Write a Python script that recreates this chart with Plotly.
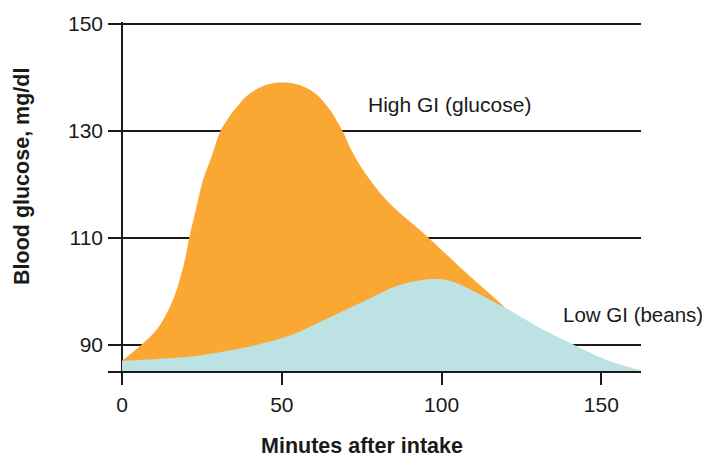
import plotly.graph_objects as go

# Minutes after intake / blood glucose (mg/dl)
high_x = [0, 6.1, 10.8, 14.5, 17.1, 19.7, 21.0, 23.3, 25.3, 28.0, 30.8, 32.8, 34.8, 37.3, 40.0, 42.6,
          45.2, 47.8, 50.4, 53.0, 55.6, 58.2, 60.8, 63.2, 65.5, 67.3, 69.0, 71.8, 75.4, 82.7, 96.0,
          106.7, 117.1, 122.0, 130.6, 141.0, 151.5, 162.4]
high_y = [87.0, 90.0, 92.8, 96.5, 100.3, 106.0, 110.0, 115.8, 120.8, 125.2, 130.0, 132.0, 133.7, 135.5, 137.0, 138.0,
          138.65, 139.0, 139.1, 139.0, 138.6, 137.9, 136.9, 135.4, 133.6, 131.8, 130.0, 126.4, 122.7, 117.1, 110.0,
          104.0, 98.5, 95.9, 92.7, 89.6, 86.7, 85.0]

low_x = [0, 12.0, 24.4, 50.4, 63.4, 76.5, 86.9, 97.3, 102.5, 119.7, 130.6, 141.0, 151.5, 162.4]
low_y = [87.0, 87.4, 88.0, 91.3, 94.7, 98.4, 101.2, 102.3, 102.0, 97.0, 93.2, 90.1, 87.2, 85.2]

x_ticks = [0, 50, 100, 150]
y_ticks = [90, 110, 130, 150]

labels = ["High GI (glucose)", "Low GI (beans)"]
label_x = [102.5, 159.8]
label_y = [134.9, 95.6]

x_title = "Minutes after intake"
y_title = "Blood glucose, mg/dl"

ORANGE = "#FBA733"
BLUE = "#BDE2E3"
INK = "#1a1a1a"
FONT = "Liberation Sans, Arial, Helvetica, sans-serif"

fig = go.Figure()
fig.add_trace(go.Scatter(x=high_x, y=high_y, mode="lines", line=dict(width=0, shape="spline", smoothing=1.0),
                         fill="tozeroy", fillcolor=ORANGE, hoverinfo="skip", showlegend=False))
fig.add_trace(go.Scatter(x=low_x, y=low_y, mode="lines", line=dict(width=0, shape="spline", smoothing=1.0),
                         fill="tozeroy", fillcolor=BLUE, hoverinfo="skip", showlegend=False))

for t, xx, yy, fs in zip(labels, label_x, label_y, [21, 20.5]):
    fig.add_annotation(x=xx, y=yy, text=t, showarrow=False, xanchor="center", yanchor="middle",
                       font=dict(size=fs, color=INK, family=FONT))

fig.add_annotation(xref="paper", yref="paper", x=-0.1614, y=0.5587, text="<b>" + y_title + "</b>",
                   textangle=-90, showarrow=False, xanchor="center", yanchor="middle",
                   font=dict(size=21.5, color=INK, family=FONT))
fig.add_annotation(xref="paper", yref="paper", x=0.4765, y=-0.215, text="<b>" + x_title + "</b>",
                   showarrow=False, xanchor="center", yanchor="middle",
                   font=dict(size=21.5, color=INK, family=FONT))

fig.update_layout(
    width=702, height=451,
    margin=dict(l=100, r=69, t=14, b=88),
    paper_bgcolor="white", plot_bgcolor="white",
    font=dict(family=FONT, size=21, color=INK),
    xaxis=dict(range=[-4.4, 162.4], tickvals=x_ticks, ticks="outside", ticklen=12, tickwidth=1.5,
               tickcolor=INK, showgrid=False, zeroline=True, zerolinecolor=INK, zerolinewidth=1.5,
               showline=True, linecolor=INK, linewidth=1.5, automargin=False, ticklabelstandoff=2),
    yaxis=dict(range=[85.1, 150.4], tickvals=y_ticks, ticks="", showgrid=True, gridcolor=INK, gridwidth=1.5,
               zeroline=False, showline=False, ticklabelstandoff=4, automargin=False),
)

fig.write_html("out.html")
